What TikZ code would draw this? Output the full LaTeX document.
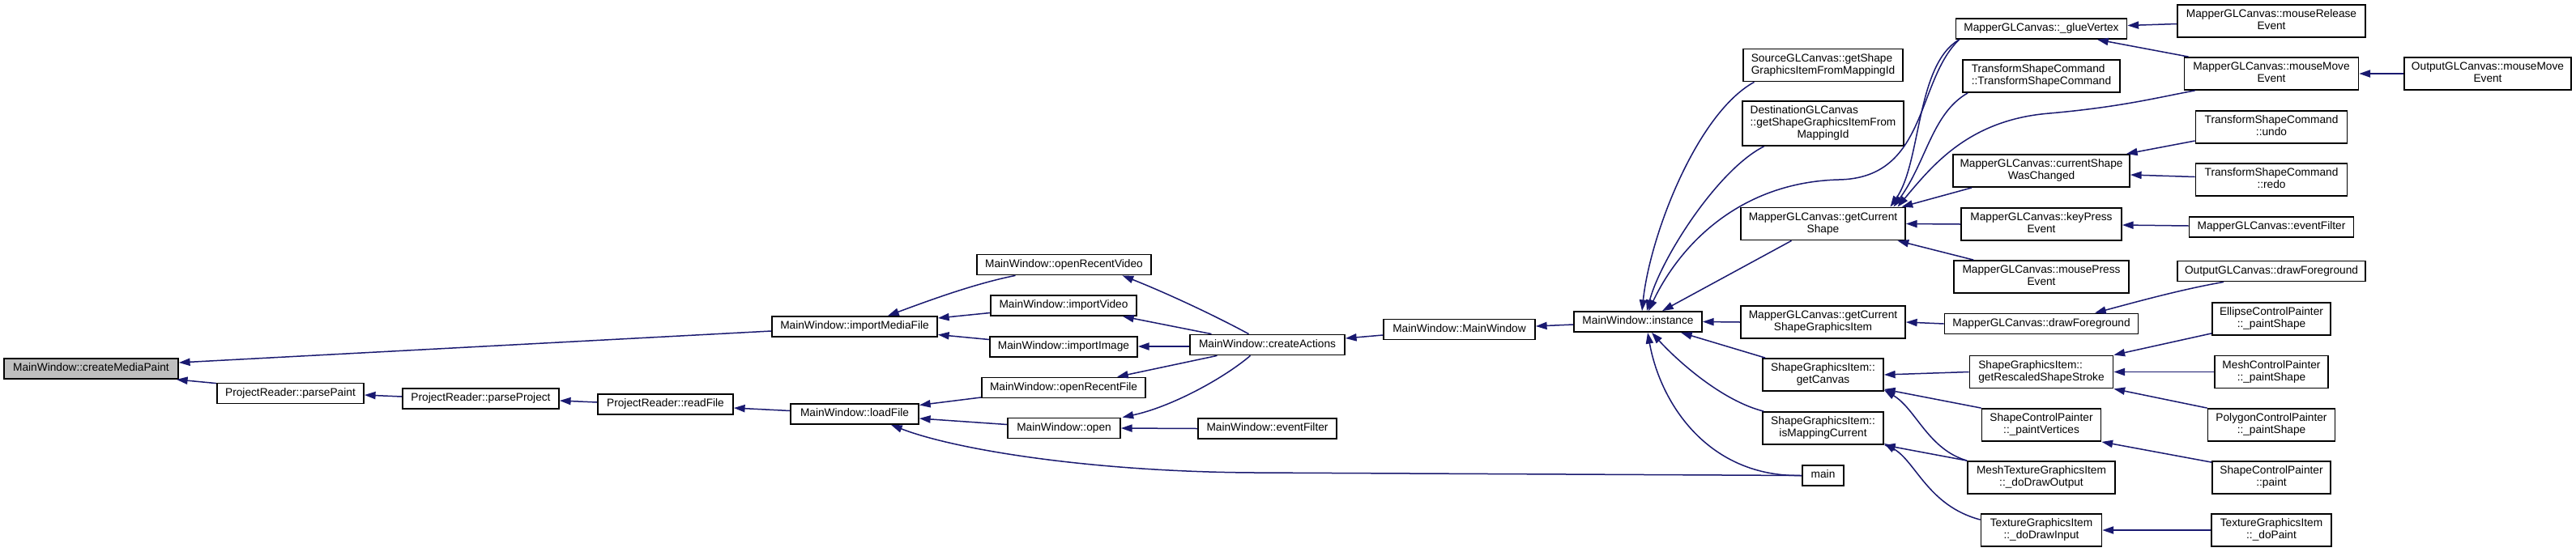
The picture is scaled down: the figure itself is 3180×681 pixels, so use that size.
\documentclass[tikz,border=0pt]{standalone}
\usepackage{fontspec}
\setmainfont{Liberation Sans}
\usetikzlibrary{arrows.meta}
\definecolor{midnight}{HTML}{191970}
\definecolor{rootgray}{HTML}{BFBFBF}
\newcommand{\dxOne}[1]{\begin{tabular}{@{}c@{}}#1\end{tabular}}
\newcommand{\dxTwo}[2]{\begin{tabular}{@{}l@{}}#1\\\multicolumn{1}{@{}c@{}}{#2}\end{tabular}}
\newcommand{\dxThree}[3]{\begin{tabular}{@{}l@{}}#1\\#2\\\multicolumn{1}{@{}c@{}}{#3}\end{tabular}}
\tikzset{
  dnode/.style={draw=black, fill=white, line width=1.8pt, rectangle, inner sep=0pt,
    minimum height=25pt, font=\fontsize{13.7}{15}\selectfont},
  tworow/.style={minimum height=40pt},
  threerow/.style={minimum height=55pt},
  rootnode/.style={fill=rootgray},
  cedge/.style={draw=midnight, line width=1.5pt, {Triangle[length=13.7pt,width=9.2pt]}-}
}
\begin{document}
\begin{tikzpicture}[x=1pt,y=-1pt]
\fill[white] (0,0) rectangle (3180,681);
\useasboundingbox (0,0) rectangle (3180,681);
% column 0-3
\node[dnode,rootnode,minimum width=215pt] (cmp) at (112.5,455.5) {\dxOne{MainWindow::createMediaPaint}};
\node[dnode,minimum width=181pt] (pp) at (358.5,486) {\dxOne{ProjectReader::parsePaint}};
\node[dnode,minimum width=193pt] (pj) at (593.5,492.5) {\dxOne{ProjectReader::parseProject}};
\node[dnode,minimum width=167pt] (rf) at (821.5,499.5) {\dxOne{ProjectReader::readFile}};
% column 4
\node[dnode,minimum width=204pt] (imf) at (1055,403.5) {\dxOne{MainWindow::importMediaFile}};
\node[dnode,minimum width=158pt] (lf) at (1055,511.5) {\dxOne{MainWindow::loadFile}};
% column 5
\node[dnode,minimum width=215pt] (orv) at (1313.5,327) {\dxOne{MainWindow::openRecentVideo}};
\node[dnode,minimum width=180pt] (iv) at (1313,377.5) {\dxOne{MainWindow::importVideo}};
\node[dnode,minimum width=182pt] (ii) at (1313,428.5) {\dxOne{MainWindow::importImage}};
\node[dnode,minimum width=202pt] (orf) at (1313,479) {\dxOne{MainWindow::openRecentFile}};
\node[dnode,minimum width=139pt] (op) at (1313.5,529) {\dxOne{MainWindow::open}};
% column 6-8
\node[dnode,minimum width=191pt] (ca) at (1564.5,426) {\dxOne{MainWindow::createActions}};
\node[dnode,minimum width=171pt] (ef) at (1564.5,529.5) {\dxOne{MainWindow::eventFilter}};
\node[dnode,minimum width=187pt] (mw) at (1801.5,407) {\dxOne{MainWindow::MainWindow}};
\node[dnode,minimum width=158pt] (in) at (2022,397.5) {\dxOne{MainWindow::instance}};
% column 9
\node[dnode,tworow,minimum width=197pt] (src) at (2250.5,80.5) {\dxTwo{SourceGLCanvas::getShape}{GraphicsItemFromMappingId}};
\node[dnode,threerow,minimum width=199pt] (dst) at (2250.5,152.5) {\dxThree{DestinationGLCanvas}{::getShapeGraphicsItemFrom}{MappingId}};
\node[dnode,tworow,minimum width=203pt] (gcs) at (2250.5,276.5) {\dxTwo{MapperGLCanvas::getCurrent}{Shape}};
\node[dnode,tworow,minimum width=203pt] (gcsgi) at (2250.5,398) {\dxTwo{MapperGLCanvas::getCurrent}{ShapeGraphicsItem}};
\node[dnode,tworow,minimum width=149pt] (gc) at (2250.5,463) {\dxTwo{ShapeGraphicsItem::}{getCanvas}};
\node[dnode,tworow,minimum width=149pt] (imc) at (2250.5,529) {\dxTwo{ShapeGraphicsItem::}{isMappingCurrent}};
\node[dnode,minimum width=51pt] (main) at (2250.5,587.5) {\dxOne{main}};
% column 10
\node[dnode,minimum width=211pt] (gv) at (2520,35.5) {\dxOne{MapperGLCanvas::\_glueVertex}};
\node[dnode,tworow,minimum width=194pt] (tsc) at (2520,94) {\dxTwo{TransformShapeCommand}{::TransformShapeCommand}};
\node[dnode,tworow,minimum width=218pt] (csc) at (2520,211) {\dxTwo{MapperGLCanvas::currentShape}{WasChanged}};
\node[dnode,tworow,minimum width=198pt] (kp) at (2520,277) {\dxTwo{MapperGLCanvas::keyPress}{Event}};
\node[dnode,tworow,minimum width=216pt] (mp) at (2520,342) {\dxTwo{MapperGLCanvas::mousePress}{Event}};
\node[dnode,minimum width=239pt] (mdf) at (2520,400) {\dxOne{MapperGLCanvas::drawForeground}};
\node[dnode,tworow,minimum width=177pt] (grs) at (2520,459.5) {\dxTwo{ShapeGraphicsItem::}{getRescaledShapeStroke}};
\node[dnode,tworow,minimum width=147pt] (pv) at (2520,525) {\dxTwo{ShapeControlPainter}{::\_paintVertices}};
\node[dnode,tworow,minimum width=182pt] (mtg) at (2520,590) {\dxTwo{MeshTextureGraphicsItem}{::\_doDrawOutput}};
\node[dnode,tworow,minimum width=149pt] (tgi) at (2520,655) {\dxTwo{TextureGraphicsItem}{::\_doDrawInput}};
% column 11
\node[dnode,tworow,minimum width=232pt] (mr) at (2804,26) {\dxTwo{MapperGLCanvas::mouseRelease}{Event}};
\node[dnode,tworow,minimum width=215pt] (mm) at (2804,91) {\dxTwo{MapperGLCanvas::mouseMove}{Event}};
\node[dnode,tworow,minimum width=187pt] (un) at (2804,157) {\dxTwo{TransformShapeCommand}{::undo}};
\node[dnode,tworow,minimum width=187pt] (rd) at (2804,222) {\dxTwo{TransformShapeCommand}{::redo}};
\node[dnode,minimum width=203pt] (mef) at (2804,280.5) {\dxOne{MapperGLCanvas::eventFilter}};
\node[dnode,minimum width=232pt] (odf) at (2804,335) {\dxOne{OutputGLCanvas::drawForeground}};
\node[dnode,tworow,minimum width=146pt] (el) at (2804,394) {\dxTwo{EllipseControlPainter}{::\_paintShape}};
\node[dnode,tworow,minimum width=140pt] (mcp) at (2804,459.5) {\dxTwo{MeshControlPainter}{::\_paintShape}};
\node[dnode,tworow,minimum width=157pt] (pcp) at (2804,525) {\dxTwo{PolygonControlPainter}{::\_paintShape}};
\node[dnode,tworow,minimum width=146pt] (scp) at (2804,590) {\dxTwo{ShapeControlPainter}{::paint}};
\node[dnode,tworow,minimum width=148pt] (tdp) at (2804,655) {\dxTwo{TextureGraphicsItem}{::\_doPaint}};
% column 12
\node[dnode,tworow,minimum width=206pt] (omm) at (3071,91) {\dxTwo{OutputGLCanvas::mouseMove}{Event}};

% edges (arrow at callee)
\draw[cedge] ([yshift=7.5pt]cmp.east) -- ([yshift=-5.5pt]imf.west);
\draw[cedge] ([xshift=-3pt]cmp.south east) -- ([yshift=-1pt]pp.north west);
\draw[cedge] ([yshift=-2pt]pp.east) -- ([yshift=2.5pt]pj.west);
\draw[cedge] ([yshift=-2.5pt]pj.east) -- ([yshift=2.5pt]rf.west);
\draw[cedge] ([yshift=-4.5pt]rf.east) -- ([yshift=4pt]lf.west);
\draw[cedge] ([xshift=41pt]imf.north) .. controls (1150,370) and (1205,350) .. ([xshift=-60pt]orv.south);
\draw[cedge] ([yshift=10.5pt]imf.east) -- ([yshift=-9pt]iv.west);
\draw[cedge] ([yshift=-10pt]imf.east) -- ([yshift=9pt]ii.west);
\draw[cedge] ([yshift=11pt]lf.east) -- ([yshift=-12pt]orf.west);
\draw[cedge] ([yshift=-5.5pt]lf.east) -- ([yshift=4.5pt]op.west);
\draw[cedge] ([xshift=45pt]lf.south) .. controls (1180,556) and (1350,583) .. (1550,584) -- (main.west);
\draw[cedge] ([xshift=72pt]orv.south) .. controls (1440,362) and (1500,390) .. ([xshift=-23pt]ca.north);
\draw[cedge] ([xshift=73pt]iv.south) -- ([xshift=-69pt]ca.north);
\draw[cedge] ([yshift=0.5pt]ii.east) -- ([yshift=-2pt]ca.west);
\draw[cedge] ([xshift=66pt]orf.north) -- ([xshift=-62pt]ca.south);
\draw[cedge] ([xshift=72pt]op.north) .. controls (1445,503) and (1510,468) .. ([xshift=-21pt]ca.south);
\draw[cedge] (op.east) -- (ef.west);
\draw[cedge] ([yshift=8pt]ca.east) -- ([yshift=-7pt]mw.west);
\draw[cedge] ([yshift=4pt]mw.east) -- ([yshift=-3.5pt]in.west);
\draw[cedge] ([xshift=5pt]in.north) .. controls (2037,290) and (2095,140) .. ([xshift=-85pt]src.south);
\draw[cedge] ([xshift=11pt]in.north) .. controls (2050,320) and (2120,210) .. ([xshift=-73pt]dst.south);
\draw[cedge] ([xshift=13pt]in.north) .. controls (2075,300) and (2150,225) .. (2270,222) .. controls (2380,220) and (2365,100) .. ([xshift=5pt]gv.south west);
\draw[cedge] ([xshift=30pt]in.north) -- ([xshift=-39pt]gcs.south);
\draw[cedge] (in.east) -- (gcsgi.west);
\draw[cedge] ([xshift=53pt]in.south) -- ([xshift=4pt]gc.north west);
\draw[cedge] ([xshift=17pt]in.south) .. controls (2070,445) and (2125,495) .. ([xshift=2pt]imc.north west);
\draw[cedge] ([xshift=12pt]in.south) .. controls (2050,500) and (2110,590) .. (main.west);
\draw[cedge] ([xshift=83pt]gcs.north) .. controls (2372,200) and (2365,80) .. ([xshift=5pt]gv.south west);
\draw[cedge] ([xshift=87pt]gcs.north) .. controls (2378,200) and (2385,140) .. ([xshift=7pt]tsc.south west);
\draw[cedge] ([xshift=92pt]gcs.north) .. controls (2385,205) and (2430,148) .. (2530,140) .. controls (2620,132) and (2665,120) .. ([xshift=14pt]mm.south west);
\draw[cedge] ([xshift=97pt]gcs.north) -- ([xshift=24pt]csc.south west);
\draw[cedge] (gcs.east) -- (kp.west);
\draw[cedge] ([xshift=92pt]gcs.south) -- ([xshift=25pt]mp.north west);
\draw[cedge] ([yshift=4pt]gv.east) -- ([yshift=-3.5pt]mr.west);
\draw[cedge] ([xshift=69pt]gv.south) -- ([xshift=6pt]mm.north west);
\draw[cedge] (mm.east) -- (omm.west);
\draw[cedge] ([xshift=-5pt]csc.north east) -- ([yshift=-17pt]un.west);
\draw[cedge] ([yshift=-5pt]csc.east) -- ([yshift=3.5pt]rd.west);
\draw[cedge] ([yshift=-1pt]kp.east) -- ([yshift=1.5pt]mef.west);
\draw[cedge] (gcsgi.east) -- (mdf.west);
\draw[cedge] ([xshift=66pt]mdf.north) .. controls (2630,375) and (2690,358) .. ([xshift=-59pt]odf.south);
\draw[cedge] (gc.east) -- (grs.west);
\draw[cedge] ([yshift=3pt]gc.south east) -- (pv.north west);
\draw[cedge] ([yshift=2pt]gc.south east) .. controls (2365,505) and (2380,555) .. (mtg.north west);
\draw[cedge] (imc.south east) -- (mtg.north west);
\draw[cedge] ([yshift=2pt]imc.south east) .. controls (2365,570) and (2380,625) .. ([yshift=-8pt]tgi.north west);
\draw[cedge] (grs.north east) -- ([yshift=3pt]el.south west);
\draw[cedge] (grs.east) -- (mcp.west);
\draw[cedge] (grs.south east) -- (pcp.north west);
\draw[cedge] (pv.south east) -- ([yshift=-2pt]scp.north west);
\draw[cedge] (tgi.east) -- (tdp.west);
\end{tikzpicture}
\end{document}
